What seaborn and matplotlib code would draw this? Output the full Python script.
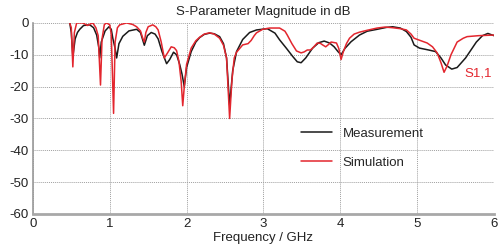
"""S-parameter magnitude: measurement vs simulation."""

import matplotlib
matplotlib.use("Agg")
import matplotlib.pyplot as plt
import pandas as pd
import seaborn as sns

# measured S1,1 (GHz, dB)
meas_freq = [0.48, 0.50, 0.52, 0.55, 0.58, 0.61, 0.66, 0.74, 0.79, 0.83, 0.86, 0.87, 0.89,
             0.94, 0.99, 1.02, 1.04, 1.07, 1.09, 1.12, 1.17, 1.25, 1.35, 1.40, 1.45, 1.49,
             1.54, 1.59, 1.63, 1.68, 1.74, 1.78, 1.83, 1.87, 1.91, 1.94, 1.97, 2.00, 2.06,
             2.12, 2.17, 2.23, 2.30, 2.36, 2.43, 2.48, 2.52, 2.56, 2.60, 2.65, 2.73, 2.82,
             2.91, 3.05, 3.15, 3.21, 3.30, 3.38, 3.44, 3.49, 3.55, 3.64, 3.72, 3.79, 3.86,
             3.92, 3.97, 4.01, 4.06, 4.14, 4.25, 4.35, 4.48, 4.60, 4.68, 4.78, 4.86, 4.92,
             4.96, 5.03, 5.15, 5.24, 5.31, 5.37, 5.45, 5.52, 5.63, 5.70, 5.77, 5.85, 5.92, 6.00]
meas_db = [0, -3, -10.7, -5, -3, -2, -0.8, -0.6, -1.5, -3.8, -8, -11, -6,
           -2.5, -1.2, -2, -4.8, -8, -11, -6.5, -4.2, -2.5, -2, -3, -7, -4,
           -3.0, -3.5, -5, -9, -12.8, -11.5, -9.2, -10, -13, -16, -20, -14, -9,
           -6, -4.6, -3.6, -3.2, -3.4, -4.3, -6.5, -11, -25.8, -15, -9, -5.2, -3,
           -2.2, -1.8, -3.2, -5.3, -8, -10.5, -12.2, -12.5, -11, -7.9, -6.2, -5.7, -6.3,
           -7.5, -9, -10, -8, -5.9, -3.8, -2.6, -2.0, -1.4, -1.2, -1.6, -2.7, -4.5,
           -6.9, -7.9, -8.5, -9, -11, -13.2, -14.5, -14, -11, -8.5, -6, -4, -3.3, -4]

# simulated S1,1 (GHz, dB)
sim_freq = [0.48, 0.50, 0.52, 0.54, 0.57, 0.65, 0.71, 0.75, 0.78, 0.82, 0.85, 0.88, 0.90,
            0.93, 0.96, 1.00, 1.02, 1.05, 1.07, 1.10, 1.13, 1.22, 1.30, 1.35, 1.40, 1.43,
            1.45, 1.47, 1.50, 1.56, 1.60, 1.63, 1.67, 1.71, 1.75, 1.80, 1.84, 1.87, 1.90,
            1.93, 1.95, 1.97, 2.00, 2.06, 2.12, 2.17, 2.23, 2.30, 2.36, 2.43, 2.48, 2.52,
            2.56, 2.59, 2.62, 2.65, 2.73, 2.80, 2.84, 2.88, 2.91, 2.99, 3.08, 3.21, 3.28,
            3.31, 3.37, 3.43, 3.49, 3.53, 3.57, 3.61, 3.64, 3.70, 3.74, 3.77, 3.81, 3.85,
            3.88, 3.95, 3.98, 4.01, 4.04, 4.08, 4.12, 4.18, 4.25, 4.35, 4.48, 4.58, 4.68,
            4.78, 4.86, 4.92, 4.96, 5.05, 5.13, 5.20, 5.26, 5.31, 5.35, 5.39, 5.44, 5.52,
            5.60, 5.65, 5.80, 6.00]
sim_db = [0, -1.5, -13.8, -3, 0, 0, -0.8, -0.3, 0, -1.5, -4, -19.5, -5,
          -0.5, 0, -0.6, -3.5, -28.4, -6, -1.5, -0.6, 0, -0.5, -1.2, -2.5, -4.8,
          -6, -3, -1.2, -0.6, -1.2, -2.2, -6, -11, -9.5, -7.5, -7.8, -8.7, -12,
          -18.5, -26, -20, -13, -7.9, -5.6, -4.5, -3.5, -3.1, -3.5, -4.8, -7, -11,
          -30, -18, -11, -9.2, -6.9, -6.5, -5.5, -4, -3.1, -2.0, -1.6, -1.6, -2.6,
          -3.8, -6.5, -8.8, -9.4, -9.1, -8.5, -8.5, -7.9, -6.3, -6.4, -6.9, -7.5, -6.7,
          -6, -6.3, -8, -11.5, -9, -6.5, -4.8, -3.5, -2.9, -2.3, -1.6, -1.3, -1.5,
          -1.8, -2.2, -3.5, -4.8, -5.6, -6.3, -7.5, -9.4, -12.5, -15.5, -13.5, -10, -6,
          -4.8, -4.3, -4, -3.8]

series_names = ["Measurement", "Simulation"]
series_colors = ["#1a1a1a", "#e3262e"]
x_ticks = [0, 1, 2, 3, 4, 5, 6]
y_ticks = [0, -10, -20, -30, -40, -50, -60]

df = pd.concat([
    pd.DataFrame({"freq": meas_freq, "db": meas_db, "series": series_names[0]}),
    pd.DataFrame({"freq": sim_freq, "db": sim_db, "series": series_names[1]}),
], ignore_index=True)

sns.set_style("white")
plt.rcParams["font.family"] = ["Liberation Sans", "DejaVu Sans"]
plt.rcParams["axes.unicode_minus"] = False

fig = plt.figure(figsize=(4.98, 2.44), dpi=100)
ax = fig.add_axes([0.066, 0.123, 0.926, 0.783])

sns.lineplot(data=df, x="freq", y="db", hue="series", palette=series_colors,
             estimator=None, sort=False, linewidth=1.1, ax=ax)

ax.set_xlim(0, 6)
ax.set_ylim(-60, 0)
ax.set_xticks(x_ticks)
ax.set_yticks(y_ticks)
ax.tick_params(length=0, labelsize=9.5, colors="#222222", pad=3)
ax.grid(True, color="#a0a0a0", linestyle=(0, (1, 1)), linewidth=0.7)
ax.set_axisbelow(True)
for side in ("top", "right"):
    ax.spines[side].set_visible(False)
ax.spines["left"].set_color("#9a9a9a")
ax.spines["left"].set_linewidth(1.2)
ax.spines["bottom"].set_color("#a8a8a8")
ax.spines["bottom"].set_linewidth(2.0)

ax.set_title("S-Parameter Magnitude in dB", fontsize=9.5, color="#222222", pad=6)
ax.set_xlabel("Frequency / GHz", fontsize=9.5, color="#222222", labelpad=1)
ax.set_ylabel("")

ax.legend(title=None, frameon=False, loc="upper left", bbox_to_anchor=(0.555, 0.515),
          fontsize=9.5, handlelength=2.4, labelspacing=1.3, handletextpad=0.8)

ax.text(5.97, -16, "S1,1", color=series_colors[1], fontsize=9.5, ha="right", va="center")

fig.savefig("out.png", dpi=100)
